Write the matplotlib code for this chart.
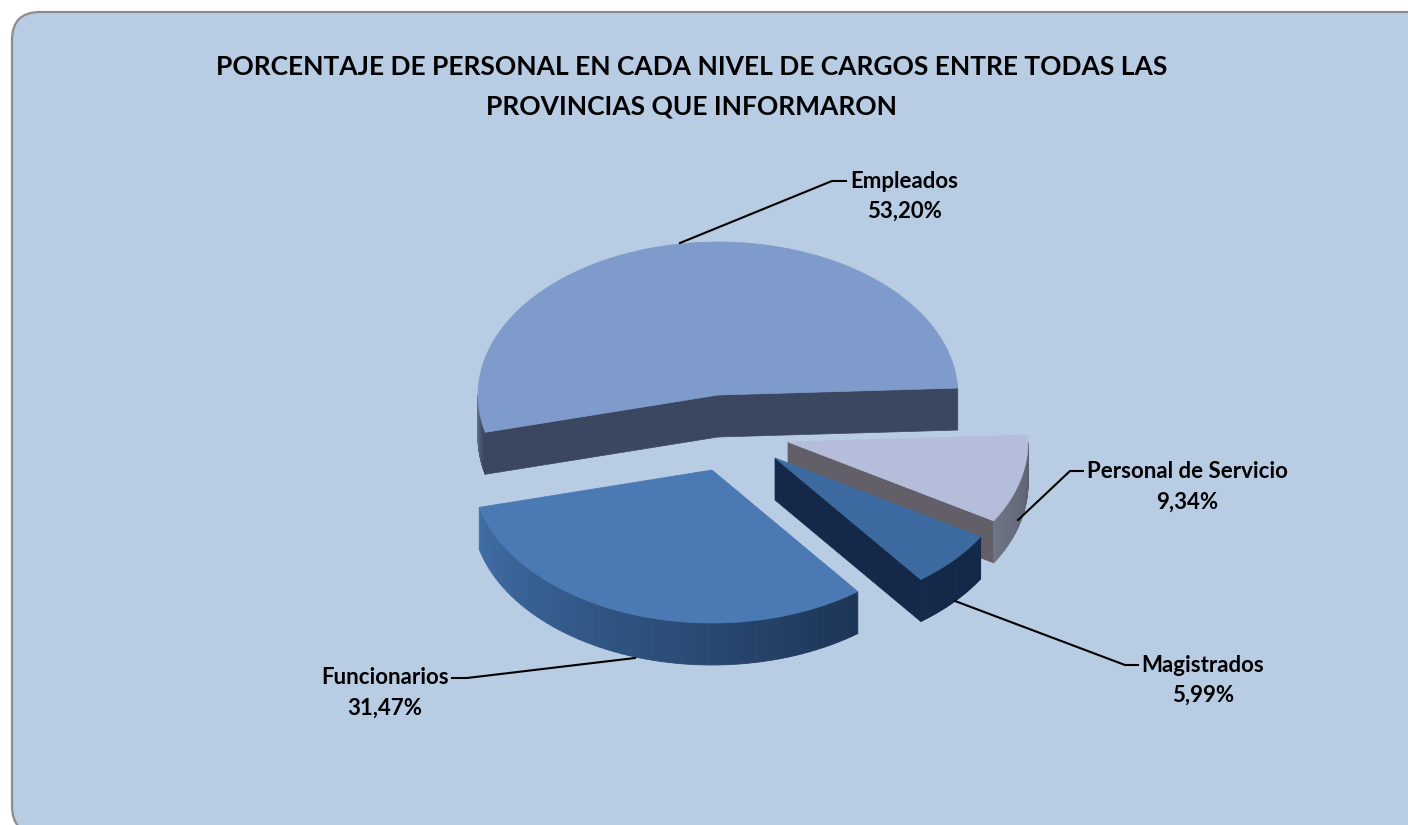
"""
    Exploded 3D style pie: percentage of staff per position level.
"""

import numpy as np
import matplotlib
matplotlib.use("Agg")
import matplotlib.pyplot as plt
from matplotlib.patches import FancyBboxPatch

categories = ["Empleados", "Funcionarios", "Magistrados", "Personal de Servicio"]
values = [53.20, 31.47, 5.99, 9.34]
value_labels = ["53,20%", "31,47%", "5,99%", "9,34%"]
title_lines = ["PORCENTAJE DE PERSONAL EN CADA NIVEL DE CARGOS ENTRE TODAS LAS",
               "PROVINCIAS QUE INFORMARON"]

# Look of each slice, same order as categories
top_colors = ["#7F9BCB", "#4A79B3", "#3D6AA0", "#B4BEDA"]
wall_left = ["#6C7A9C", "#3F6EA5", "#14294A", "#6F7484"]
wall_right = ["#3A4660", "#1D3557", "#14294A", "#5C6172"]
face_colors = ["#3B4761", "#1D3557", "#14294A", "#635F68"]
apex_x = [718, 712, 775, 788]
apex_y = [395, 470, 458, 442]
draw_order = [0, 3, 2, 1]

RX, RY, DEPTH = 240, 153, 42
START_ANGLE = 2.6


def hex_rgb(c):
    return np.array(matplotlib.colors.to_rgb(c))


def rim(cx, cy, a, b, n=80):
    t = np.radians(np.linspace(a, b, n))
    return cx + RX * np.cos(t), cy - RY * np.sin(t)


def draw_wall(ax, i, a, b):
    # outer curved wall, only the part facing the viewer
    a = max(a, 180)
    b = min(b, 360)
    if b <= a:
        return
    x, y = rim(apex_x[i], apex_y[i], a, b, 60)
    c0, c1 = hex_rgb(wall_left[i]), hex_rgb(wall_right[i])
    for k in range(len(x) - 1):
        c = c0 + (c1 - c0) * k / (len(x) - 2)
        ax.fill([x[k], x[k + 1], x[k + 1], x[k]],
                [y[k], y[k + 1], y[k + 1] + DEPTH, y[k] + DEPTH],
                color=c, lw=0.6, zorder=3)


def draw_slice(ax, i, a, b):
    cx, cy = apex_x[i], apex_y[i]
    for ang, side in ((a, -90), (b, 90)):
        if np.sin(np.radians(ang + side)) < 0:
            x, y = rim(cx, cy, ang, ang, 1)
            ax.fill([cx, x[0], x[0], cx], [cy, y[0], y[0] + DEPTH, cy + DEPTH],
                    color=face_colors[i], lw=0.5, zorder=3)
    draw_wall(ax, i, a, b)
    x, y = rim(cx, cy, a, b)
    ax.fill(np.r_[cx, x], np.r_[cy, y], color=top_colors[i], lw=0.5, zorder=3)


plt.rcParams["font.family"] = ["Lato", "DejaVu Sans"]
fig = plt.figure(figsize=(14.08, 8.25), dpi=100)
ax = fig.add_axes([0, 0, 1, 1])
ax.set_xlim(0, 1408)
ax.set_ylim(825, 0)
ax.axis("off")

ax.add_patch(FancyBboxPatch((38, 38), 1400, 770, boxstyle="round,pad=26,rounding_size=28",
                            fc="#B8CCE4", ec="#8C8C8C", lw=1.6, zorder=1))

for j, line in enumerate(title_lines):
    ax.text(692, 67 + 39 * j, line, ha="center", va="center", fontsize=19,
            fontweight="bold", color="black", zorder=5)

edges = START_ANGLE + np.r_[0, np.cumsum(values)] / np.sum(values) * 360
for i in draw_order:
    draw_slice(ax, i, edges[i], edges[i + 1])

# Leader lines: slice end, elbow, label end
leader_x = [[680, 832, 846], [635, 467, 452], [955, 1125, 1138], [1018, 1070, 1083]]
leader_y = [[243, 181, 181], [658, 678, 678], [601, 665, 665], [520, 471, 471]]
label_x = [904, 385, 1203, 1187]
label_y = [181, 678, 665, 472]
for i in range(4):
    ax.plot(leader_x[i], leader_y[i], color="black", lw=1.5, zorder=4)
    ax.text(label_x[i], label_y[i], categories[i], ha="center", va="center",
            fontsize=16, fontweight="bold", zorder=5)
    ax.text(label_x[i], label_y[i] + 30, value_labels[i], ha="center", va="center",
            fontsize=16, fontweight="bold", zorder=5)

fig.savefig("out.png", dpi=100, facecolor="white")
